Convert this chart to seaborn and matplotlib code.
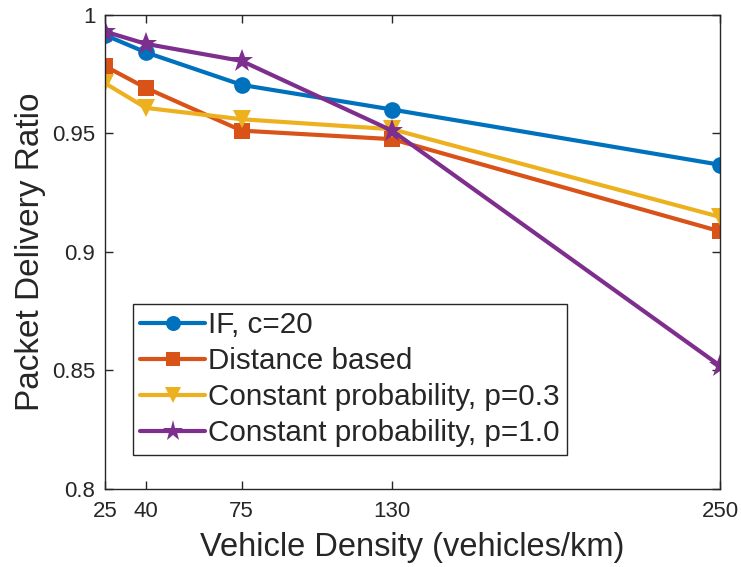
import matplotlib
matplotlib.use("Agg")
import matplotlib.pyplot as plt
import seaborn as sns
import pandas as pd

density = [25, 40, 75, 130, 250]
if_c20 = [0.9915, 0.9842, 0.9705, 0.9601, 0.9368]
distance_based = [0.9784, 0.9692, 0.9512, 0.9476, 0.9087]
const_p03 = [0.9712, 0.9608, 0.9560, 0.9518, 0.9148]
const_p10 = [0.9930, 0.9878, 0.9806, 0.9512, 0.8520]

series_names = ["IF, c=20", "Distance based",
                "Constant probability, p=0.3", "Constant probability, p=1.0"]
series_values = [if_c20, distance_based, const_p03, const_p10]

x_ticks = [25, 40, 75, 130, 250]
y_ticks = [0.8, 0.85, 0.9, 0.95, 1.0]
y_tick_labels = ["0.8", "0.85", "0.9", "0.95", "1"]

df = pd.DataFrame({
    "density": density * len(series_names),
    "pdr": [v for vals in series_values for v in vals],
    "scheme": [n for n in series_names for _ in density],
})

sns.set_theme(style="white")
plt.rcParams["font.family"] = ["Liberation Sans", "DejaVu Sans"]

colors = ["#0072BD", "#D95319", "#EDB120", "#7E2F8E"]
markers = {series_names[0]: "o", series_names[1]: "s",
           series_names[2]: "v", series_names[3]: "*"}
sizes = {series_names[0]: 12, series_names[1]: 11,
         series_names[2]: 13, series_names[3]: 17}

fig = plt.figure(figsize=(7.41, 5.67), dpi=100)
ax = fig.add_axes([0.1417, 0.1376, 0.830, 0.836])

sns.lineplot(data=df, x="density", y="pdr", hue="scheme", style="scheme",
             hue_order=series_names, style_order=series_names,
             palette=colors, markers=markers, dashes=False,
             linewidth=3, markeredgewidth=0, ax=ax)

for line, name in zip(ax.get_lines(), series_names):
    line.set_markersize(sizes[name])

ax.set_xlim(25, 250)
ax.set_ylim(0.8, 1.0)
ax.set_xticks(x_ticks)
ax.set_xticklabels([str(t) for t in x_ticks])
ax.set_yticks(y_ticks)
ax.set_yticklabels(y_tick_labels)

edge = "#262626"
for sp in ax.spines.values():
    sp.set_visible(True)
    sp.set_color(edge)
    sp.set_linewidth(1.0)
ax.tick_params(direction="in", length=6, width=1.0, color=edge,
               labelsize=16, labelcolor=edge, top=True, right=True,
               bottom=True, left=True)
ax.tick_params(axis="x", pad=9)
ax.tick_params(axis="y", pad=7)

ax.set_xlabel("Vehicle Density (vehicles/km)", fontsize=23.5, color=edge, labelpad=7)
ax.set_ylabel("Packet Delivery Ratio", fontsize=24, color=edge, labelpad=4)

handles, labels = ax.get_legend_handles_labels()
leg = ax.legend(handles, labels, loc="lower left",
                bbox_to_anchor=(0.045, 0.072), fontsize=21.3,
                frameon=True, fancybox=False, framealpha=1,
                edgecolor=edge, handlelength=2.2, handletextpad=0.1,
                labelspacing=0.27, borderpad=0.25, borderaxespad=0)
leg.get_frame().set_linewidth(1.0)
for h, name in zip(leg.legend_handles, series_names):
    h.set_markersize(sizes[name] * 0.9)

fig.savefig("out.png", dpi=100, facecolor="white")
